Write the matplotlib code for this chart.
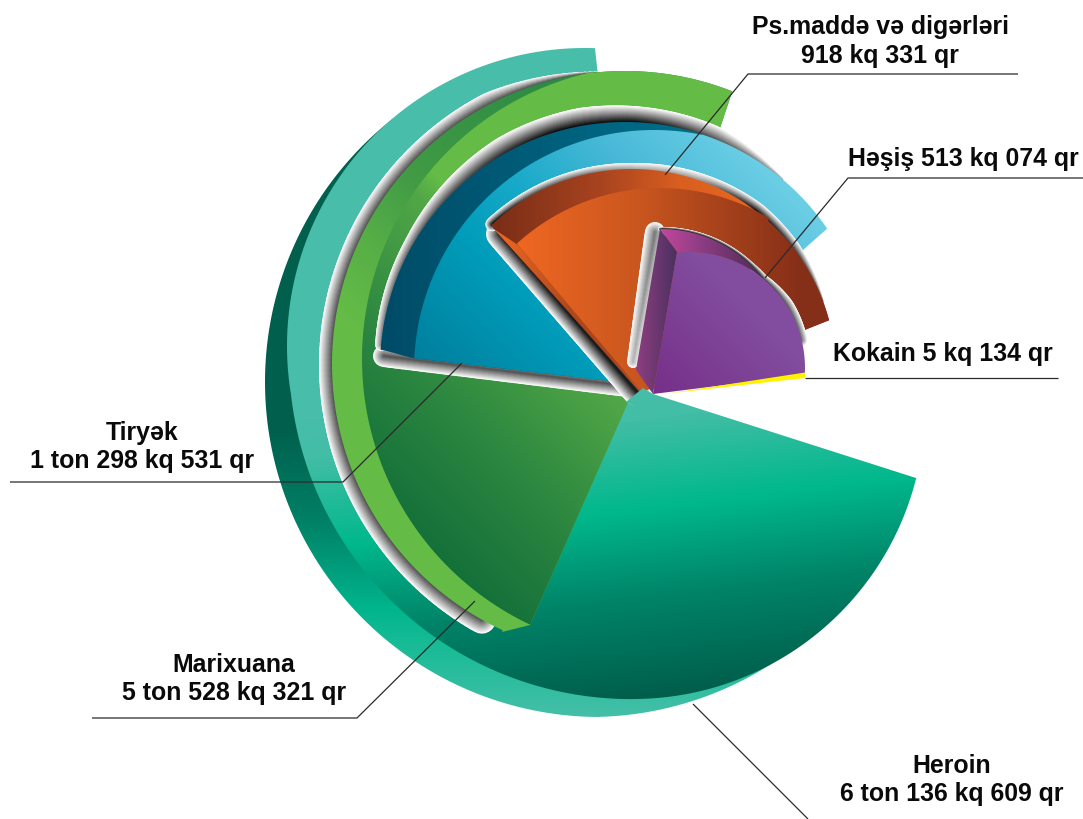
import numpy as np
import matplotlib
matplotlib.use('Agg')
import matplotlib.pyplot as plt
from matplotlib.collections import LineCollection
from matplotlib.colors import to_rgb
from matplotlib.patches import Polygon

# Values as printed in the infographic
categories = ['Heroin', 'Marixuana', 'Tiryək', 'Ps.maddə və digərləri', 'Həşiş', 'Kokain']
amount_labels = ['6 ton 136 kq 609 qr', '5 ton 528 kq 321 qr', '1 ton 298 kq 531 qr',
                 '918 kq 331 qr', '513 kq 074 qr', '5 kq 134 qr']

W, H = 1083, 819
fig = plt.figure(figsize=(W / 100, H / 100), dpi=100)
ax = fig.add_axes([0, 0, 1, 1])
ax.set_axis_off()
plt.rcParams['font.family'] = ['Liberation Sans', 'DejaVu Sans']

X, Y = np.meshgrid(np.arange(W) + 0.5, np.arange(H) + 0.5)
layer = [1]


def next_z():
    # paint strictly in call order, images and collections alike
    layer[0] += 1
    return layer[0]


def arc(c, r, p0, p1, cw=True, n=140):
    # screen clockwise = growing angle because y points down
    a0 = np.arctan2(p0[1] - c[1], p0[0] - c[0])
    a1 = np.arctan2(p1[1] - c[1], p1[0] - c[0])
    if cw:
        while a1 < a0:
            a1 += 2 * np.pi
    else:
        while a1 > a0:
            a1 -= 2 * np.pi
    t = np.linspace(a0, a1, n)
    return np.c_[c[0] + r * np.cos(t), c[1] + r * np.sin(t)]


def shape(*parts):
    return np.vstack([np.atleast_2d(p) for p in parts])


def fill(poly, direction, stops):
    # linear gradient clipped to a polygon
    t = direction[0] * X + direction[1] * Y
    pos = [s[0] for s in stops]
    rgb = np.array([to_rgb(s[1]) for s in stops])
    img = np.dstack([np.interp(t, pos, rgb[:, i]) for i in range(3)])
    im = ax.imshow(img, extent=(0, W, H, 0), interpolation='bilinear', aspect='auto', zorder=next_z())
    im.set_clip_path(Polygon(poly, closed=True, transform=ax.transData))


def soft_stroke(pts, width, dark, levels=18):
    # white outside, dark inside; the inner half is hidden by the sector on top
    pts = np.asarray(pts)
    n = len(pts) - 1
    width = np.broadcast_to(np.interp(np.linspace(0, 1, n), *width) if isinstance(width, tuple) else width, n)
    dark = np.broadcast_to(np.interp(np.linspace(0, 1, n), *dark) if isinstance(dark, tuple) else dark, n)
    segs = np.stack([pts[:-1], pts[1:]], axis=1)
    for i in range(levels):
        t = i / levels
        g = 1 - t * (1 - dark)
        ax.add_collection(LineCollection(segs, colors=np.c_[g, g, g],
                                         linewidths=2 * width * (1 - t) * 0.72,
                                         capstyle='round', joinstyle='round', zorder=next_z()))


# Heroin: back disc and main disc
c_back, c_back_r = (600, 382), (590, 381)
back = shape(c_back, arc(c_back_r, 336, (790, 653), (600, 717), n=60), arc(c_back, 335, (600, 717), (393, 117)))
fill(back, (0, 1), [(100, '#00604d'), (430, '#00604d'), (520, '#008066'), (607, '#00b48c'),
                    (640, '#14bb95'), (717, '#45bfa8')])

apex = (632, 393)
c1, c2, c3 = (585, 346), (631.4, 356.6), (633, 407)
heroin_stops = [(456, '#48bdaa'), (496, '#42bda6'), (586, '#00b88c'), (676, '#008368'), (776, '#005e4b')]
heroin_left = shape(apex, arc(c2, 342.5, (633.5, 699), (292, 392)), arc(c1, 298, (292, 392), (595, 48)))
heroin_right = shape((653, 394), (916, 478), arc(c3, 292, (916, 478), (633, 699)), (530, 625), (628, 398))
for part in (heroin_left, heroin_right):
    fill(part, (0.12, 1), heroin_stops)

# Marixuana
c_d, c_c = (625, 364), (656, 359)
soft_stroke(arc(c_d, 293, (480, 623), (596, 72)), ([0, 0.85, 1], [14, 12, 1]), 0.3)
green_band = shape(apex, (530, 625), (502, 632), arc(c_d, 293, (502, 632), (732, 92)))
fill(green_band, (1, -1), [(-150, '#64bc46'), (30, '#64bc46'), (130, '#56ae47'), (230, '#429c45'), (470, '#2c8a44')])
green_main = shape(apex, (530, 625), arc(c_c, 294, (530, 625), (593, 66)),
                   arc(c_d, 293, (593, 73), (732, 92)))
fill(green_main, (1, -1), [(-150, '#0f6c37'), (30, '#2a8540'), (110, '#3a9342'), (225, '#52a847'), (260, '#64bc46')])

# Tiryək
c_o, c_i = (625, 367), (654, 370)
line = np.c_[np.linspace(384, 628, 40), np.linspace(356, 386, 40)]
soft_stroke(line, 11, 0.3)
soft_stroke(arc(c_o, 245, (383, 345), (782, 180)),
            ([0, 0.2, 0.45, 0.6, 0.85, 1], [6, 9, 17, 18, 13, 1]),
            ([0, 0.35, 0.55, 0.7, 1], [0.5, 0.25, 0.0, 0.0, 0.6]))
navy = shape((618, 382), (412, 358), (383, 350), arc(c_o, 245, (383, 350), (710, 137)))
fill(navy, (1, 0), [(385, '#004c68'), (700, '#00708c')])
blue = shape((618, 382), (412, 358), arc(c_i, 240, (412, 358), (702, 135)),
             arc(c_o, 245, (702, 135), (831, 226)), (803, 250), (660, 380))
fill(blue, (1, -1), [(60, '#00809e'), (230, '#009dba'), (330, '#17a9c8'), (450, '#45b7d6'), (590, '#69cde4')])

# Ps.maddə və digərləri
c_or, c_om = (632, 373), (660, 400)
soft_stroke(np.c_[np.linspace(500, 637, 40), np.linspace(234, 392, 40)], 14, 0.05)
soft_stroke(arc(c_or, 204, (492, 224), (826, 300)),
            ([0, 0.4, 0.72, 0.85, 1], [7, 6, 9, 7, 1]),
            ([0, 0.1, 0.4, 0.55, 0.72, 1], [0.0, 0.25, 0.65, 0.6, 0.0, 0.5]))
orange_band = shape((640, 392), (493, 228), arc(c_or, 204, (493, 226), (830, 320)), (802, 331))
fill(orange_band, (1, 0), [(495, '#7a2e17'), (600, '#a8431f'), (680, '#d95f20'), (745, '#e8651f'), (760, '#8e3318'), (830, '#862f18')])
orange_wall = shape((494, 229), (518, 245), (642, 392))
fill(orange_wall, (1, 0.3), [(570, '#ee6722'), (660, '#b04a1c'), (780, '#a03f1b')])
orange_main = shape((642, 392), (518, 245), arc(c_om, 212, (518, 245), (767, 222)),
                    arc(c_or, 204, (767, 222), (830, 320)), (802, 331))
fill(orange_main, (1, 0), [(520, '#ee6722'), (640, '#c9561f'), (800, '#862f18')])

# tip of the heroin sector sits on top of the shadows
fill(shape((626, 402), (643, 388), (653, 394), (660, 420)), (0.12, 1), heroin_stops)

# Həşiş and Kokain
c_w, c_p = (661, 359), (689, 368)
soft_stroke(np.c_[np.linspace(655, 633, 30), np.linspace(232, 362, 30)],
            ([0, 1], [10, 6]), ([0, 1], [0.45, 0.7]))
rim = shape(arc(c_w, 130, (660, 229), (763, 278), n=60), arc(c_p, 116, (763, 278), (803, 340), n=40))
soft_stroke(rim, ([0, 0.5, 0.8, 1], [2, 3, 7, 6]), ([0, 0.45, 0.6, 1], [0.0, 0.05, 0.2, 0.4]), levels=12)
fill(shape((660, 229), (677, 252), arc(c_p, 116, (677, 252), (763, 278)), arc(c_w, 130, (763, 278), (660, 229), cw=False)),
     (1, 0), [(662, '#c1479b'), (700, '#8f3d84'), (763, '#4a2c55')])
fill(shape((660, 229), (677, 252), (653, 394), (636, 370)), (1, 0), [(636, '#8e3f80'), (677, '#4a3060')])
fill(shape((677, 252), arc(c_p, 116, (677, 252), (805, 373)), (805, 375), (653, 394)),
     (1, -1), [(270, '#77318a'), (440, '#824d9f')])
fill(shape((805, 372.5), (805, 378), (668, 393.5)), (1, 0), [(600, '#fff200'), (900, '#fff200')])

# Leader lines
leaders = [
    ([693, 808], [704, 819]),
    ([92, 357, 475], [718, 718, 601]),
    ([10, 343, 462], [482, 482, 363]),
    ([1018, 748, 665], [74, 74, 175]),
    ([1083, 848, 765], [178, 178, 278]),
    ([1058, 805], [378, 378]),
]
for lx, ly in leaders:
    ax.plot(lx, ly, color='#2a2a2a', lw=0.9, solid_capstyle='butt', zorder=next_z())

# Labels
label_style = dict(fontsize=17.9, fontweight='bold', color='#0a0a0a', ha='center', va='center', zorder=next_z())
ax.text(952, 766, categories[0], **label_style)
ax.text(952, 794, amount_labels[0], **label_style)
ax.text(234, 665, categories[1], **label_style)
ax.text(234, 693, amount_labels[1], **label_style)
ax.text(142, 433, categories[2], **label_style)
ax.text(142, 461, amount_labels[2], **label_style)
ax.text(880, 27, categories[3], **label_style)
ax.text(880, 56, amount_labels[3], **label_style)
ax.text(963, 159, categories[4] + ' ' + amount_labels[4], **label_style)
ax.text(943, 354, categories[5] + ' ' + amount_labels[5], **label_style)

ax.set_xlim(0, W)
ax.set_ylim(H, 0)
fig.savefig('out.png', dpi=100, facecolor='white')
